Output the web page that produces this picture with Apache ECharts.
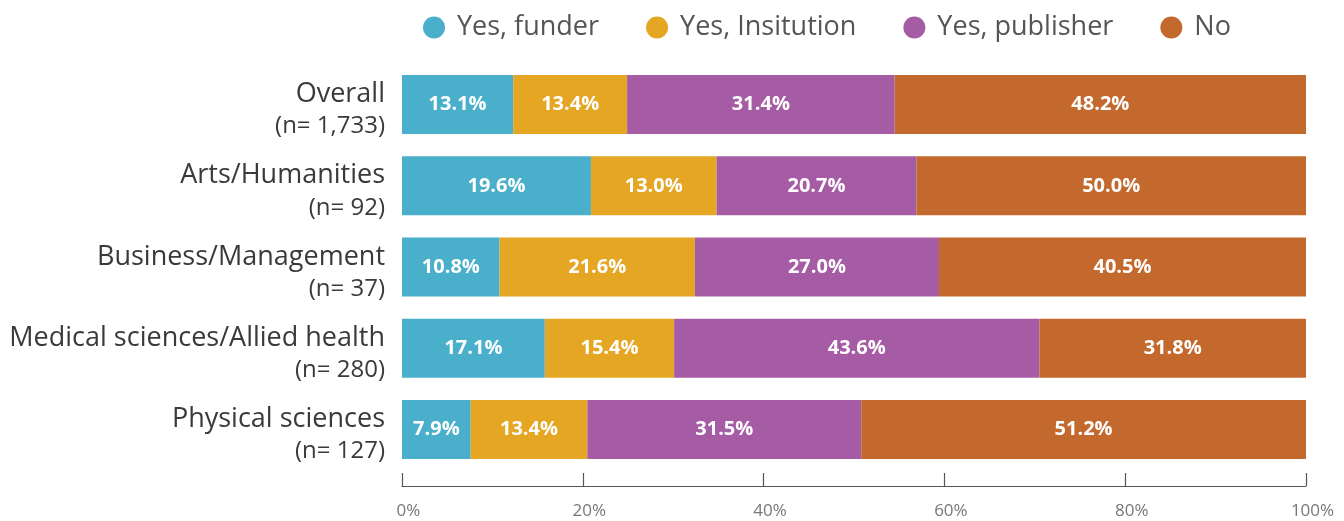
<!DOCTYPE html>
<html>
<head>
<meta charset="utf-8">
<script src="https://cdn.jsdelivr.net/npm/echarts@6/dist/echarts.min.js"></script>
<style>
  html, body { margin: 0; background: #fff; }
  #chart { width: 1344px; height: 521px; }
</style>
</head>
<body>
<div id="chart"></div>
<script>
var groups = ['Overall', 'Arts/Humanities', 'Business/Management', 'Medical sciences/Allied health', 'Physical sciences'];
var sampleSizes = ['1,733', '92', '37', '280', '127'];
var seriesNames = ['Yes, funder', 'Yes, Insitution', 'Yes, publisher', 'No'];
var colors = ['#4aafcb', '#e5a623', '#a65ca4', '#c4692d'];

// printed percentages
var funderShown = [13.1, 19.6, 10.8, 17.1, 7.9];
var institutionShown = [13.4, 13.0, 21.6, 15.4, 13.4];
var publisherShown = [31.4, 20.7, 27.0, 43.6, 31.5];
var noShown = [48.2, 50.0, 40.5, 31.8, 51.2];

// bar lengths as drawn (multi-answer rows are stretched to fill 100%)
var funderBar = [12.3, 20.9, 10.8, 15.8, 7.6];
var institutionBar = [12.6, 13.9, 21.6, 14.3, 12.9];
var publisherBar = [29.6, 22.1, 27.0, 40.4, 30.3];
var noBar = [45.5, 43.1, 40.6, 29.5, 49.2];

var xTicks = [0, 20, 40, 60, 80, 100];

var shown = [funderShown, institutionShown, publisherShown, noShown];
var bars = [funderBar, institutionBar, publisherBar, noBar];

var chart = echarts.init(document.getElementById('chart'));

var series = seriesNames.map(function (name, i) {
  return {
    name: name,
    type: 'bar',
    stack: 'all',
    barWidth: 59,
    itemStyle: { color: colors[i] },
    label: {
      show: true,
      position: 'inside',
      color: '#fff',
      fontFamily: 'Open Sans',
      fontWeight: 'bold',
      fontSize: 20,
      formatter: function (p) { return shown[i][p.dataIndex].toFixed(1) + '%'; }
    },
    data: bars[i]
  };
});

chart.setOption({
  animation: false,
  textStyle: { fontFamily: 'Open Sans' },
  legend: {
    data: seriesNames,
    icon: 'circle',
    left: 418,
    top: 9,
    itemWidth: 22,
    itemHeight: 22,
    itemGap: 47,
    textStyle: { fontSize: 27, color: '#555', fontFamily: 'Open Sans', padding: [0, 0, 0, 7] }
  },
  grid: { left: 402, right: 38, top: 64, bottom: 51 },
  xAxis: {
    type: 'value',
    min: xTicks[0],
    max: xTicks[xTicks.length - 1],
    interval: 20,
    offset: 16,
    splitLine: { show: false },
    axisLine: { show: true, lineStyle: { color: '#555', width: 1.2 } },
    axisTick: { show: true, inside: true, length: 13, lineStyle: { color: '#555', width: 1.2 } },
    axisLabel: { color: '#777', fontSize: 17, margin: 17, padding: [0, 0, 0, 13], formatter: '{value}%' }
  },
  yAxis: {
    type: 'category',
    inverse: true,
    data: groups,
    axisLine: { show: false },
    axisTick: { show: false },
    axisLabel: {
      margin: 17,
      formatter: function (v, idx) {
        return '{main|' + v + '}\n{sub|(n= ' + sampleSizes[idx] + ')}';
      },
      rich: {
        main: { fontSize: 27, color: '#3a3a3a', lineHeight: 44, align: 'right', fontFamily: 'Open Sans' },
        sub: { fontSize: 24, color: '#3a3a3a', lineHeight: 20, align: 'right', fontFamily: 'Open Sans' }
      }
    }
  },
  series: series
});
</script>
</body>
</html>
